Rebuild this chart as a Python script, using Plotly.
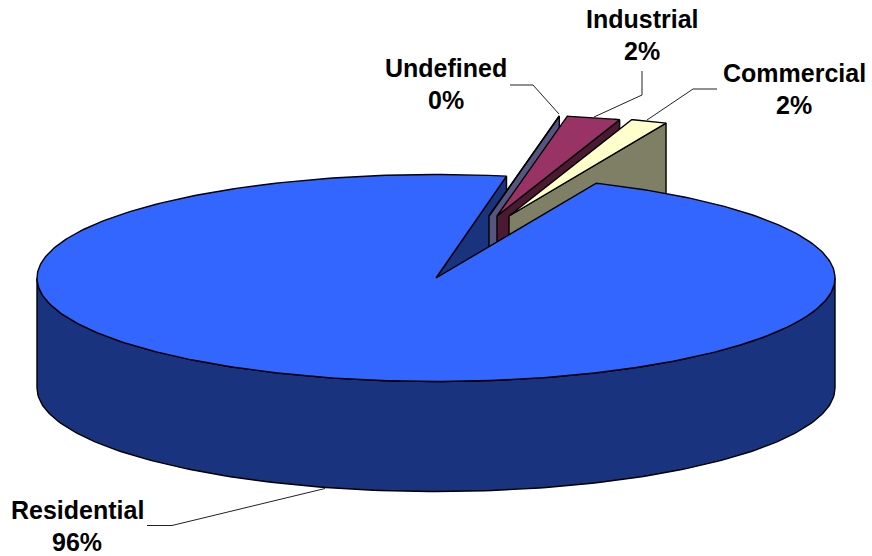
import numpy as np
import plotly.graph_objects as go

# Share of each sector, in percent, clockwise from the residential slice
categories = ["Residential", "Undefined", "Industrial", "Commercial"]
shares = [96.25, 0.05, 2.2, 1.5]

top_colors = ["#3366FF", "#9999FF", "#993366", "#FFFFCC"]
wall_colors = ["#19337F", "#55557F", "#4C1933", "#7F7F66"]

# Projection of the pie disc on to the page
CX, CY = 436, 278
RX, RY = 399, 103.5
DEPTH = 110
START_DEG = 23.68

# Pulled-out slices: pixel offset of the apex and a slight foreshortening
explode = {"Undefined": (53, -62), "Industrial": (61, -62), "Commercial": (73, -62)}
EXPLODED_SCALE = 0.98
EDGE_WIDTH = 1.4


def rim(deg, ox=0.0, oy=0.0, scale=1.0):
    t = np.radians(deg)
    return CX + ox + scale * RX * np.sin(t), CY + oy - scale * RY * np.cos(t)


def poly(fig, xs, ys, fill):
    fig.add_trace(go.Scatter(
        x=list(xs) + [xs[0]], y=list(ys) + [ys[0]], mode="lines", fill="toself",
        fillcolor=fill, line=dict(color="#000000", width=EDGE_WIDTH),
        hoverinfo="skip", showlegend=False,
    ))


# Slice boundaries in degrees clockwise from the back of the disc
edges = START_DEG + np.concatenate([[0], np.cumsum(shares)]) * 3.6
spans = {c: (edges[i], edges[i + 1]) for i, c in enumerate(categories)}

fig = go.Figure()

# Residential: the side wall of the notch, then the front wall
res_start, res_end = spans["Residential"]
ex, ey = rim(res_end)
poly(fig, [CX, ex, ex, CX], [CY, ey, ey + DEPTH, CY + DEPTH], wall_colors[0])

front = np.linspace(90, 270, 181)
fx, fy = rim(front)
poly(fig, list(fx) + list(fx[::-1]), list(fy + DEPTH) + list(fy[::-1]), wall_colors[0])

# Pulled-out slices, back to front: radial wall first, then the top face
for name in categories[1:]:
    i = categories.index(name)
    a0, a1 = spans[name]
    ox, oy = explode[name]
    ax, ay = CX + ox, CY + oy
    wx, wy = rim(a1, ox, oy, EXPLODED_SCALE)
    poly(fig, [ax, wx, wx, ax], [ay, wy, wy + DEPTH, ay + DEPTH], wall_colors[i])
    arc = np.linspace(a0, a1, 24)
    tx, ty = rim(arc, ox, oy, EXPLODED_SCALE)
    poly(fig, [ax] + list(tx), [ay] + list(ty), top_colors[i])

# Residential top face sits over the lower part of the pulled-out walls
arc = np.linspace(res_start, res_end, 400)
tx, ty = rim(arc)
poly(fig, [CX] + list(tx), [CY] + list(ty), top_colors[0])

# Leader lines from the labels to their slices
leaders = [
    ([147, 172, 325], [525.5, 525.5, 488.5]),
    ([510, 533, 559], [85, 85, 114]),
    ([642, 642, 594], [71, 95, 117]),
    ([717, 693, 647], [89, 89, 120]),
]
for lx, ly in leaders:
    fig.add_trace(go.Scatter(
        x=lx, y=ly, mode="lines", line=dict(color="#222222", width=1),
        hoverinfo="skip", showlegend=False,
    ))

# Two-line data labels: category name and rounded percentage
label_pos = [(77, 510), (446, 68), (642, 19), (794, 73)]
LINE_GAP = 31.5
annotations = []
for name, value, (lx, ly) in zip(categories, shares, label_pos):
    for text, y in ((name, ly), (f"{value:.0f}%", ly + LINE_GAP)):
        annotations.append(dict(
            x=lx, y=y, xref="x", yref="y", text=f"<b>{text}</b>", showarrow=False,
            xanchor="center", yanchor="middle",
            font=dict(family="Liberation Sans", size=25, color="#000000"),
        ))

fig.update_layout(
    width=872, height=556, margin=dict(l=0, r=0, t=0, b=0),
    paper_bgcolor="#FFFFFF", plot_bgcolor="#FFFFFF", showlegend=False,
    xaxis=dict(range=[0, 872], visible=False, fixedrange=True),
    yaxis=dict(range=[556, 0], visible=False, fixedrange=True),
    annotations=annotations,
)

fig.write_html("out.html", config={"displayModeBar": False})
